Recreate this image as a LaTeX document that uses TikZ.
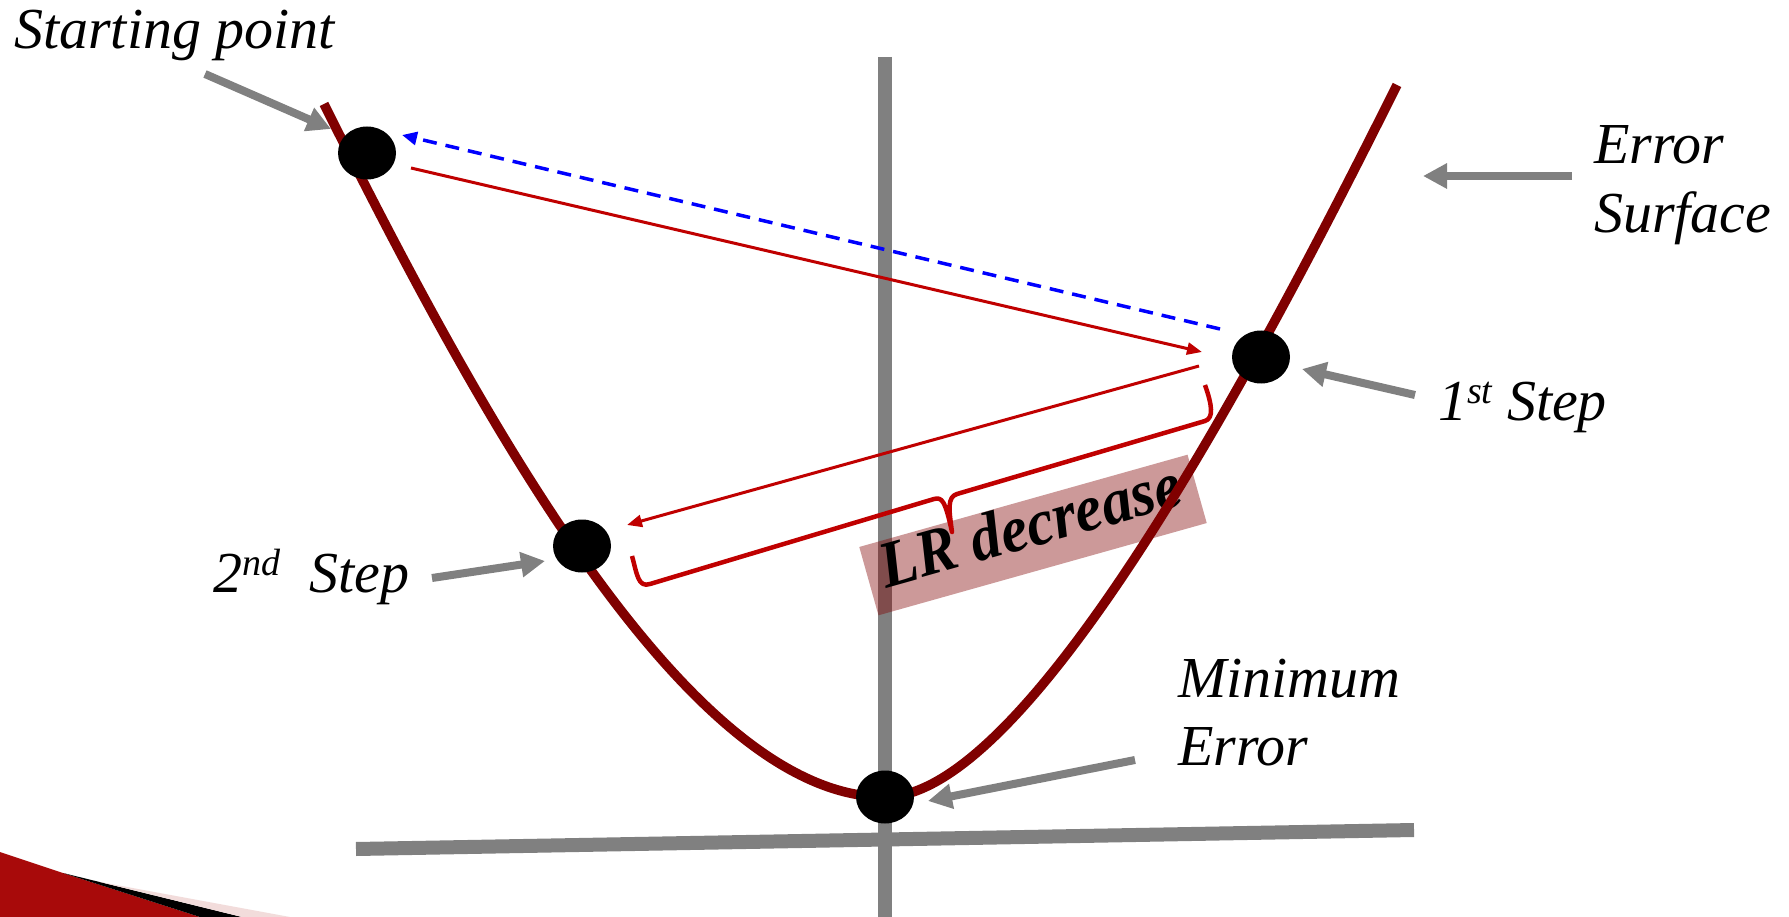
\documentclass[tikz,border=0pt]{standalone}
\usepackage{fontspec}
\setmainfont{Liberation Serif}[
  UprightFont={Liberation Serif},
  ItalicFont={Liberation Serif Italic},
  BoldFont={Liberation Serif Bold},
  BoldItalicFont={Liberation Serif Bold Italic}]
\usetikzlibrary{arrows.meta,shapes.geometric}
\definecolor{curvered}{HTML}{800000}
\definecolor{arrred}{HTML}{C00000}
\definecolor{axgray}{HTML}{808080}
\definecolor{pinkband}{HTML}{F2DCDB}
\definecolor{decored}{HTML}{A80A0A}
\newcommand\supx[1]{\raisebox{17pt}{\fontsize{38}{40}\selectfont #1}}
\begin{document}
\begin{tikzpicture}[x=1pt,y=-1pt,
  lbl/.style={inner sep=0pt, anchor=base west, font=\fontsize{58}{68.5}\selectfont\itshape},
  dot/.style={ellipse, fill=black, minimum width=58pt, minimum height=53pt, inner sep=0pt},
  axisline/.style={draw=axgray, line width=14pt},
  surf/.style={draw=curvered, line width=9.5pt},
  gd/.style={draw=axgray, line width=8pt, -{Triangle[length=24pt,width=24pt]}},
  rd/.style={draw=arrred, line width=3pt, -{Triangle[length=15pt,width=12pt]}},
  bd/.style={draw=blue, line width=3.5pt, dash pattern=on 14pt off 9pt, -{Triangle[length=15pt,width=13pt]}},
  brc/.style={draw=arrred, line width=4.5pt, line join=round},
  lrbox/.style={rotate=15.7, fill=curvered, fill opacity=0.4, text opacity=1,
    minimum width=341pt, inner xsep=0pt, inner ysep=0pt, text height=47pt, text depth=24pt,
    font=\fontsize{61}{61}\selectfont\bfseries\itshape},
]
\useasboundingbox (0,0) rectangle (1789,917);
\fill[white] (0,0) rectangle (1789,917);
% corner decoration
\fill[decored] (0,852) -- (63,873) -- (200,917) -- (0,917) -- cycle;
\fill[black] (63,873) -- (242,917) -- (200,917) -- cycle;
\fill[pinkband] (100,882) -- (290,917) -- (242,917) -- cycle;
% axes
\draw[axisline] (885,57) -- (885,917);
\draw[axisline] (356,849) -- (1414,830);
% LR decrease box
\node[lrbox] (lr) at (1033,535) {\scalebox{1}[1.08]{LR decrease}};
% error surface
\draw[surf] (324,104) .. controls (474,404) and (685,797) .. (885,797) .. controls (1035,797) and (1277,325) .. (1397,85);
% points
\node[dot] (start) at (367,153) {};
\node[dot] (step1) at (1261,357) {};
\node[dot] (step2) at (582,546) {};
\node[dot] (minpt) at (885,797) {};
% labels
\node[lbl] (lstart) at (14,49) {Starting point};
\node[lbl] (lsurf) at (1594,164) {\begin{tabular}[t]{@{}l@{}}Error\\Surface\end{tabular}};
\node[lbl] (lmin) at (1178,697) {\begin{tabular}[t]{@{}l@{}}Minimum\\Error\end{tabular}};
\node[lbl] (lone) at (1438,420) {1\supx{st} Step};
\node[lbl] (ltwo) at (213,592) {2\supx{nd}\hspace{29pt}Step};
% gray pointer arrows
\coordinate (g0s) at (205,74);   \coordinate (g0e) at (331,129);
\coordinate (g1s) at (1572,176); \coordinate (g1e) at (1423,176);
\coordinate (g2s) at (1415,395); \coordinate (g2e) at (1302,369);
\coordinate (g3s) at (432,578);  \coordinate (g3e) at (545,561);
\coordinate (g4s) at (1135,760); \coordinate (g4e) at (928,801);
\draw[gd] (g0s) -- (g0e);
\draw[gd] (g1s) -- (g1e);
\draw[gd] (g2s) -- (g2e);
\draw[gd] (g3s) -- (g3e);
\draw[gd] (g4s) -- (g4e);
% step arrows
\coordinate (r1s) at (411,168);  \coordinate (r1e) at (1202,352);
\coordinate (r2s) at (1199,366); \coordinate (r2e) at (627,525);
\coordinate (b1s) at (1220,329); \coordinate (b1e) at (402,135);
\draw[rd] (r1s) -- (r1e);
\draw[rd] (r2s) -- (r2e);
\draw[bd] (b1s) -- (b1e);
% brace
\draw[brc] (632,556) .. controls (637,574) and (638,588) .. (650,584) -- (934,499)
  .. controls (942,497) and (945,500) .. (952,532)
  .. controls (949,510) and (947,497) .. (957,494) -- (1205,421)
  .. controls (1214,418) and (1212,405) .. (1205,385);
\end{tikzpicture}
\end{document}
